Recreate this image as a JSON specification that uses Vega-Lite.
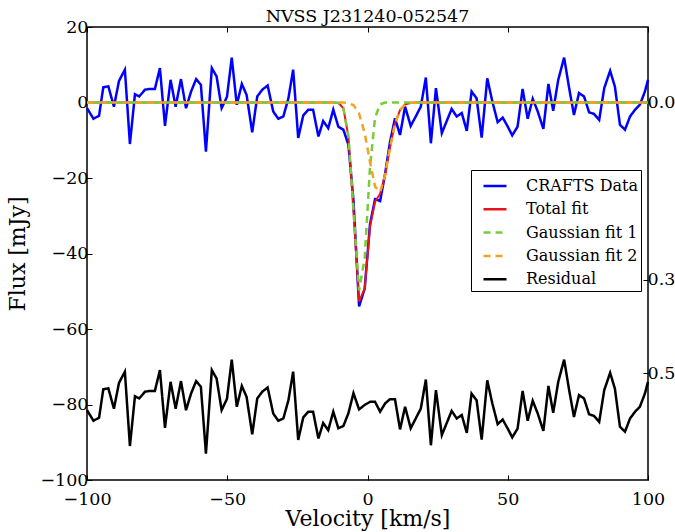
{
  "$schema": "https://vega.github.io/schema/vega-lite/v6.json",
  "width": 561,
  "height": 453,
  "autosize": {"type": "none"},
  "padding": {"left": 87, "top": 27, "right": 27, "bottom": 52},
  "background": "white",
  "title": {"text": "NVSS J231240-052547", "font": "DejaVu Serif", "fontSize": 17.5, "fontWeight": "normal", "color": "black", "offset": 3, "dy": 10, "anchor": "middle"},
  "config": {
    "view": {"stroke": "black", "strokeWidth": 1.5},
    "axis": {"grid": false, "domain": false, "tickColor": "black", "tickWidth": 1, "labelColor": "black", "titleColor": "black", "labelFont": "DejaVu Serif", "titleFont": "DejaVu Serif", "titleFontWeight": "normal", "labelFontSize": 17.5, "titleFontSize": 22, "labelOverlap": false, "labelFlush": false}
  },
  "data": {"values": [
    {"v": -100.0, "d": -1.5, "t": 0, "g1": 0, "g2": 0, "r": -81.5},
    {"v": -97.7, "d": -4.3, "t": 0, "g1": 0, "g2": 0, "r": -84.3},
    {"v": -95.7, "d": -3.5, "t": 0, "g1": 0, "g2": 0, "r": -83.5},
    {"v": -94.2, "d": 4.0, "t": 0, "g1": 0, "g2": 0, "r": -76.0},
    {"v": -92.4, "d": 4.3, "t": 0, "g1": 0, "g2": 0, "r": -75.7},
    {"v": -90.4, "d": -1.1, "t": 0, "g1": 0, "g2": 0, "r": -81.1},
    {"v": -88.6, "d": 5.7, "t": 0, "g1": 0, "g2": 0, "r": -74.3},
    {"v": -86.5, "d": 8.7, "t": 0, "g1": 0, "g2": 0, "r": -71.3},
    {"v": -84.7, "d": -11.0, "t": 0, "g1": 0, "g2": 0, "r": -91.0},
    {"v": -82.9, "d": 2.2, "t": 0, "g1": 0, "g2": 0, "r": -77.8},
    {"v": -81.4, "d": 1.6, "t": 0, "g1": 0, "g2": 0, "r": -78.4},
    {"v": -79.3, "d": 3.4, "t": 0, "g1": 0, "g2": 0, "r": -76.6},
    {"v": -77.5, "d": 3.6, "t": 0, "g1": 0, "g2": 0, "r": -76.4},
    {"v": -75.8, "d": 3.6, "t": 0, "g1": 0, "g2": 0, "r": -76.4},
    {"v": -74.0, "d": 9.1, "t": 0, "g1": 0, "g2": 0, "r": -70.9},
    {"v": -72.2, "d": -6.2, "t": 0, "g1": 0, "g2": 0, "r": -86.2},
    {"v": -70.2, "d": 6.0, "t": 0, "g1": 0, "g2": 0, "r": -74.0},
    {"v": -68.4, "d": -1.1, "t": 0, "g1": 0, "g2": 0, "r": -81.1},
    {"v": -66.5, "d": 6.2, "t": 0, "g1": 0, "g2": 0, "r": -73.8},
    {"v": -64.7, "d": -1.5, "t": 0, "g1": 0, "g2": 0, "r": -81.5},
    {"v": -62.9, "d": 2.9, "t": 0, "g1": 0, "g2": 0, "r": -77.1},
    {"v": -61.1, "d": 6.2, "t": 0, "g1": 0, "g2": 0, "r": -73.8},
    {"v": -59.4, "d": 4.7, "t": 0, "g1": 0, "g2": 0, "r": -75.3},
    {"v": -57.6, "d": -13.0, "t": 0, "g1": 0, "g2": 0, "r": -93.0},
    {"v": -55.5, "d": 9.1, "t": 0, "g1": 0, "g2": 0, "r": -70.9},
    {"v": -53.8, "d": 6.9, "t": 0, "g1": 0, "g2": 0, "r": -73.1},
    {"v": -52.0, "d": -1.5, "t": 0, "g1": 0, "g2": 0, "r": -81.5},
    {"v": -50.1, "d": 1.5, "t": 0, "g1": 0, "g2": 0, "r": -78.5},
    {"v": -48.4, "d": 11.9, "t": 0, "g1": 0, "g2": 0, "r": -68.1},
    {"v": -46.6, "d": -0.6, "t": 0, "g1": 0, "g2": 0, "r": -80.6},
    {"v": -44.8, "d": 4.9, "t": 0, "g1": 0, "g2": 0, "r": -75.1},
    {"v": -43.1, "d": 2.0, "t": 0, "g1": 0, "g2": 0, "r": -78.0},
    {"v": -41.1, "d": -7.9, "t": 0, "g1": 0, "g2": 0, "r": -87.9},
    {"v": -39.3, "d": 1.6, "t": 0, "g1": 0, "g2": 0, "r": -78.4},
    {"v": -37.5, "d": 3.4, "t": 0, "g1": 0, "g2": 0, "r": -76.6},
    {"v": -35.6, "d": 4.5, "t": 0, "g1": 0, "g2": 0, "r": -75.5},
    {"v": -33.6, "d": -2.4, "t": 0, "g1": 0, "g2": 0, "r": -82.4},
    {"v": -31.8, "d": -4.3, "t": 0, "g1": 0, "g2": 0, "r": -84.3},
    {"v": -30.0, "d": -3.7, "t": 0, "g1": 0, "g2": 0, "r": -83.7},
    {"v": -28.2, "d": 1.1, "t": 0, "g1": 0, "g2": 0, "r": -78.9},
    {"v": -26.5, "d": 8.7, "t": 0, "g1": 0, "g2": 0, "r": -71.3},
    {"v": -24.7, "d": -9.4, "t": 0, "g1": 0, "g2": 0, "r": -89.4},
    {"v": -22.9, "d": -3.4, "t": 0, "g1": 0, "g2": 0, "r": -83.4},
    {"v": -21.1, "d": -1.9, "t": 0, "g1": 0, "g2": 0, "r": -81.9},
    {"v": -19.4, "d": -1.9, "t": 0, "g1": 0, "g2": 0, "r": -81.9},
    {"v": -17.5, "d": -9.0, "t": 0, "g1": 0, "g2": 0, "r": -89.0},
    {"v": -15.8, "d": -4.9, "t": 0, "g1": 0, "g2": 0, "r": -84.9},
    {"v": -14.0, "d": -6.8, "t": 0, "g1": 0, "g2": 0, "r": -86.8},
    {"v": -12.2, "d": -1.9, "t": 0, "g1": 0, "g2": 0, "r": -81.9},
    {"v": -10.4, "d": -6.4, "t": -0.1, "g1": -0.1, "g2": 0, "r": -86.3},
    {"v": -8.6, "d": -7.2, "t": -1.5, "g1": -1.5, "g2": 0, "r": -85.7},
    {"v": -6.8, "d": -11.2, "t": -9.1, "g1": -8.9, "g2": -0.2, "r": -82.3},
    {"v": -5.0, "d": -26.0, "t": -29.0, "g1": -28.3, "g2": -0.7, "r": -77.0},
    {"v": -3.0, "d": -54.0, "t": -52.7, "g1": -49.8, "g2": -2.9, "r": -81.3},
    {"v": -1.0, "d": -49.3, "t": -49.3, "g1": -41.2, "g2": -8.1, "r": -80.1},
    {"v": 0.9, "d": -32.2, "t": -32.9, "g1": -17.1, "g2": -15.8, "r": -79.3},
    {"v": 2.7, "d": -25.6, "t": -26.3, "g1": -4.0, "g2": -22.3, "r": -79.3},
    {"v": 4.5, "d": -26.1, "t": -24.2, "g1": -0.5, "g2": -23.7, "r": -81.9},
    {"v": 6.3, "d": -18.8, "t": -19.1, "g1": 0, "g2": -19.1, "r": -79.7},
    {"v": 8.0, "d": -10.6, "t": -12.0, "g1": 0, "g2": -12.0, "r": -78.6},
    {"v": 9.8, "d": -4.2, "t": -5.6, "g1": 0, "g2": -5.6, "r": -78.6},
    {"v": 11.6, "d": -8.6, "t": -2.0, "g1": 0, "g2": -2.0, "r": -86.6},
    {"v": 13.4, "d": -1.1, "t": -0.5, "g1": 0, "g2": -0.5, "r": -80.6},
    {"v": 15.4, "d": -6.2, "t": -0.1, "g1": 0, "g2": -0.1, "r": -86.3},
    {"v": 17.2, "d": -3.7, "t": 0, "g1": 0, "g2": 0, "r": -83.7},
    {"v": 19.0, "d": -1.1, "t": 0, "g1": 0, "g2": 0, "r": -81.1},
    {"v": 20.8, "d": 6.6, "t": 0, "g1": 0, "g2": 0, "r": -73.4},
    {"v": 22.6, "d": -10.8, "t": 0, "g1": 0, "g2": 0, "r": -90.8},
    {"v": 24.4, "d": 3.8, "t": 0, "g1": 0, "g2": 0, "r": -76.2},
    {"v": 26.5, "d": -8.1, "t": 0, "g1": 0, "g2": 0, "r": -88.1},
    {"v": 28.2, "d": -5.0, "t": 0, "g1": 0, "g2": 0, "r": -85.0},
    {"v": 30.0, "d": -1.7, "t": 0, "g1": 0, "g2": 0, "r": -81.7},
    {"v": 31.8, "d": -3.7, "t": 0, "g1": 0, "g2": 0, "r": -83.7},
    {"v": 33.6, "d": -2.8, "t": 0, "g1": 0, "g2": 0, "r": -82.8},
    {"v": 35.4, "d": -7.5, "t": 0, "g1": 0, "g2": 0, "r": -87.5},
    {"v": 37.1, "d": 2.9, "t": 0, "g1": 0, "g2": 0, "r": -77.1},
    {"v": 38.9, "d": 1.1, "t": 0, "g1": 0, "g2": 0, "r": -78.9},
    {"v": 40.7, "d": -9.3, "t": 0, "g1": 0, "g2": 0, "r": -89.3},
    {"v": 42.7, "d": 6.4, "t": 0, "g1": 0, "g2": 0, "r": -73.6},
    {"v": 44.5, "d": 0.3, "t": 0, "g1": 0, "g2": 0, "r": -79.7},
    {"v": 46.4, "d": -5.2, "t": 0, "g1": 0, "g2": 0, "r": -85.2},
    {"v": 48.2, "d": -4.0, "t": 0, "g1": 0, "g2": 0, "r": -84.0},
    {"v": 50.0, "d": -6.4, "t": 0, "g1": 0, "g2": 0, "r": -86.4},
    {"v": 51.6, "d": -8.7, "t": 0, "g1": 0, "g2": 0, "r": -88.7},
    {"v": 53.5, "d": -6.4, "t": 0, "g1": 0, "g2": 0, "r": -86.4},
    {"v": 55.3, "d": 3.6, "t": 0, "g1": 0, "g2": 0, "r": -76.4},
    {"v": 57.1, "d": -4.3, "t": 0, "g1": 0, "g2": 0, "r": -84.3},
    {"v": 58.9, "d": 1.0, "t": 0, "g1": 0, "g2": 0, "r": -79.0},
    {"v": 60.7, "d": -2.4, "t": 0, "g1": 0, "g2": 0, "r": -82.4},
    {"v": 62.7, "d": -7.0, "t": 0, "g1": 0, "g2": 0, "r": -87.0},
    {"v": 64.5, "d": 4.9, "t": 0, "g1": 0, "g2": 0, "r": -75.1},
    {"v": 66.2, "d": -2.2, "t": 0, "g1": 0, "g2": 0, "r": -82.2},
    {"v": 68.0, "d": 6.0, "t": 0, "g1": 0, "g2": 0, "r": -74.0},
    {"v": 70.1, "d": 11.9, "t": 0, "g1": 0, "g2": 0, "r": -68.1},
    {"v": 71.8, "d": 4.2, "t": 0, "g1": 0, "g2": 0, "r": -75.8},
    {"v": 73.6, "d": -3.3, "t": 0, "g1": 0, "g2": 0, "r": -83.3},
    {"v": 75.4, "d": 2.5, "t": 0, "g1": 0, "g2": 0, "r": -77.5},
    {"v": 77.2, "d": 1.6, "t": 0, "g1": 0, "g2": 0, "r": -78.4},
    {"v": 79.0, "d": -2.6, "t": 0, "g1": 0, "g2": 0, "r": -82.6},
    {"v": 80.7, "d": -3.0, "t": 0, "g1": 0, "g2": 0, "r": -83.0},
    {"v": 82.6, "d": -4.6, "t": 0, "g1": 0, "g2": 0, "r": -84.6},
    {"v": 84.4, "d": 3.8, "t": 0, "g1": 0, "g2": 0, "r": -76.2},
    {"v": 86.5, "d": 8.4, "t": 0, "g1": 0, "g2": 0, "r": -71.6},
    {"v": 88.2, "d": 4.2, "t": 0, "g1": 0, "g2": 0, "r": -75.8},
    {"v": 90.0, "d": -5.9, "t": 0, "g1": 0, "g2": 0, "r": -85.9},
    {"v": 91.8, "d": -7.2, "t": 0, "g1": 0, "g2": 0, "r": -87.2},
    {"v": 93.6, "d": -3.7, "t": 0, "g1": 0, "g2": 0, "r": -83.7},
    {"v": 95.4, "d": -1.9, "t": 0, "g1": 0, "g2": 0, "r": -81.9},
    {"v": 97.1, "d": -0.6, "t": 0, "g1": 0, "g2": 0, "r": -80.6},
    {"v": 98.9, "d": 2.9, "t": 0, "g1": 0, "g2": 0, "r": -77.1},
    {"v": 100.0, "d": 6.0, "t": 0, "g1": 0, "g2": 0, "r": -74.0}
  ]},
  "transform": [{"fold": ["d", "t", "g1", "g2", "r"], "as": ["series", "flux"]}],
  "resolve": {"axis": {"x": "independent", "y": "independent"}},
  "layer": [
    {
      "transform": [{"filter": "datum.series === 'd'"}],
      "mark": {"type": "line", "strokeWidth": 2.5},
      "encoding": {
        "x": {"field": "v", "type": "quantitative", "scale": {"domain": [-100, 100], "nice": false, "zero": false},
          "axis": {"values": [-100, -50, 0, 50, 100], "title": "Velocity [km/s]", "tickSize": -5, "labelPadding": 15, "titlePadding": 1}},
        "y": {"field": "flux", "type": "quantitative", "scale": {"domain": [-100, 20], "nice": false, "zero": false},
          "axis": {"values": [20, 0, -20, -40, -60, -80, -100], "title": "Flux [mJy]", "tickSize": -5, "labelPadding": 4, "titlePadding": 10}},
        "color": {"field": "series", "type": "nominal",
          "scale": {"domain": ["d", "t", "g1", "g2", "r"], "range": ["#0000ff", "#e8141c", "#7acb3b", "#f2a21e", "#000000"]},
          "legend": {"title": null, "orient": "none", "legendX": 384, "legendY": 143, "strokeColor": "black", "fillColor": "white", "padding": 3, "symbolType": "stroke", "symbolSize": 529, "symbolStrokeWidth": 2.5, "symbolOffset": 8, "labelFont": "DejaVu Serif", "labelFontSize": 16, "labelColor": "black", "labelOffset": 18, "rowPadding": 2.3,
            "labelExpr": "datum.label == 'd' ? 'CRAFTS Data' : datum.label == 't' ? 'Total fit' : datum.label == 'g1' ? 'Gaussian fit 1' : datum.label == 'g2' ? 'Gaussian fit 2' : 'Residual'"}},
        "strokeDash": {"field": "series", "type": "nominal",
          "scale": {"domain": ["d", "t", "g1", "g2", "r"], "range": [[1, 0], [1, 0], [7, 5], [7, 5], [1, 0]]},
          "legend": {"title": null, "orient": "none", "legendX": 384, "legendY": 143, "strokeColor": "black", "fillColor": "white", "padding": 3, "symbolType": "stroke", "symbolSize": 529, "symbolStrokeWidth": 2.5, "symbolOffset": 8, "labelFont": "DejaVu Serif", "labelFontSize": 16, "labelColor": "black", "labelOffset": 18, "rowPadding": 2.3,
            "labelExpr": "datum.label == 'd' ? 'CRAFTS Data' : datum.label == 't' ? 'Total fit' : datum.label == 'g1' ? 'Gaussian fit 1' : datum.label == 'g2' ? 'Gaussian fit 2' : 'Residual'"}}
      }
    },
    {
      "transform": [{"filter": "datum.series === 't'"}],
      "mark": {"type": "line", "strokeWidth": 2},
      "encoding": {
        "x": {"field": "v", "type": "quantitative", "axis": null},
        "y": {"field": "flux", "type": "quantitative", "axis": null},
        "color": {"field": "series", "type": "nominal"},
        "strokeDash": {"field": "series", "type": "nominal"}
      }
    },
    {
      "transform": [{"filter": "datum.series === 'g1'"}],
      "mark": {"type": "line", "strokeWidth": 2.5, "strokeDashOffset": 6},
      "encoding": {
        "x": {"field": "v", "type": "quantitative", "axis": null},
        "y": {"field": "flux", "type": "quantitative", "axis": null},
        "color": {"field": "series", "type": "nominal"},
        "strokeDash": {"field": "series", "type": "nominal"}
      }
    },
    {
      "transform": [{"filter": "datum.series === 'g2'"}],
      "mark": {"type": "line", "strokeWidth": 2.5},
      "encoding": {
        "x": {"field": "v", "type": "quantitative", "axis": null},
        "y": {"field": "flux", "type": "quantitative", "axis": null},
        "color": {"field": "series", "type": "nominal"},
        "strokeDash": {"field": "series", "type": "nominal"}
      }
    },
    {
      "transform": [{"filter": "datum.series === 'r'"}],
      "mark": {"type": "line", "strokeWidth": 2.5},
      "encoding": {
        "x": {"field": "v", "type": "quantitative", "axis": null},
        "y": {"field": "flux", "type": "quantitative", "axis": null},
        "color": {"field": "series", "type": "nominal"},
        "strokeDash": {"field": "series", "type": "nominal"}
      }
    },
    {
      "transform": [{"filter": "datum.series === 'd'"}],
      "mark": {"type": "line", "opacity": 0},
      "encoding": {
        "x": {"field": "v", "type": "quantitative",
          "axis": {"orient": "top", "values": [-100, -50, 0, 50, 100], "labels": false, "title": null, "tickSize": -5}},
        "y": {"field": "flux", "type": "quantitative",
          "axis": {"orient": "right", "values": [0, -47, -71.7], "title": null, "tickSize": -5, "labelPadding": 4,
            "labelExpr": "datum.value == 0 ? '0.0' : datum.value < -60 ? '0.5' : '0.3'"}}
      }
    }
  ]
}
